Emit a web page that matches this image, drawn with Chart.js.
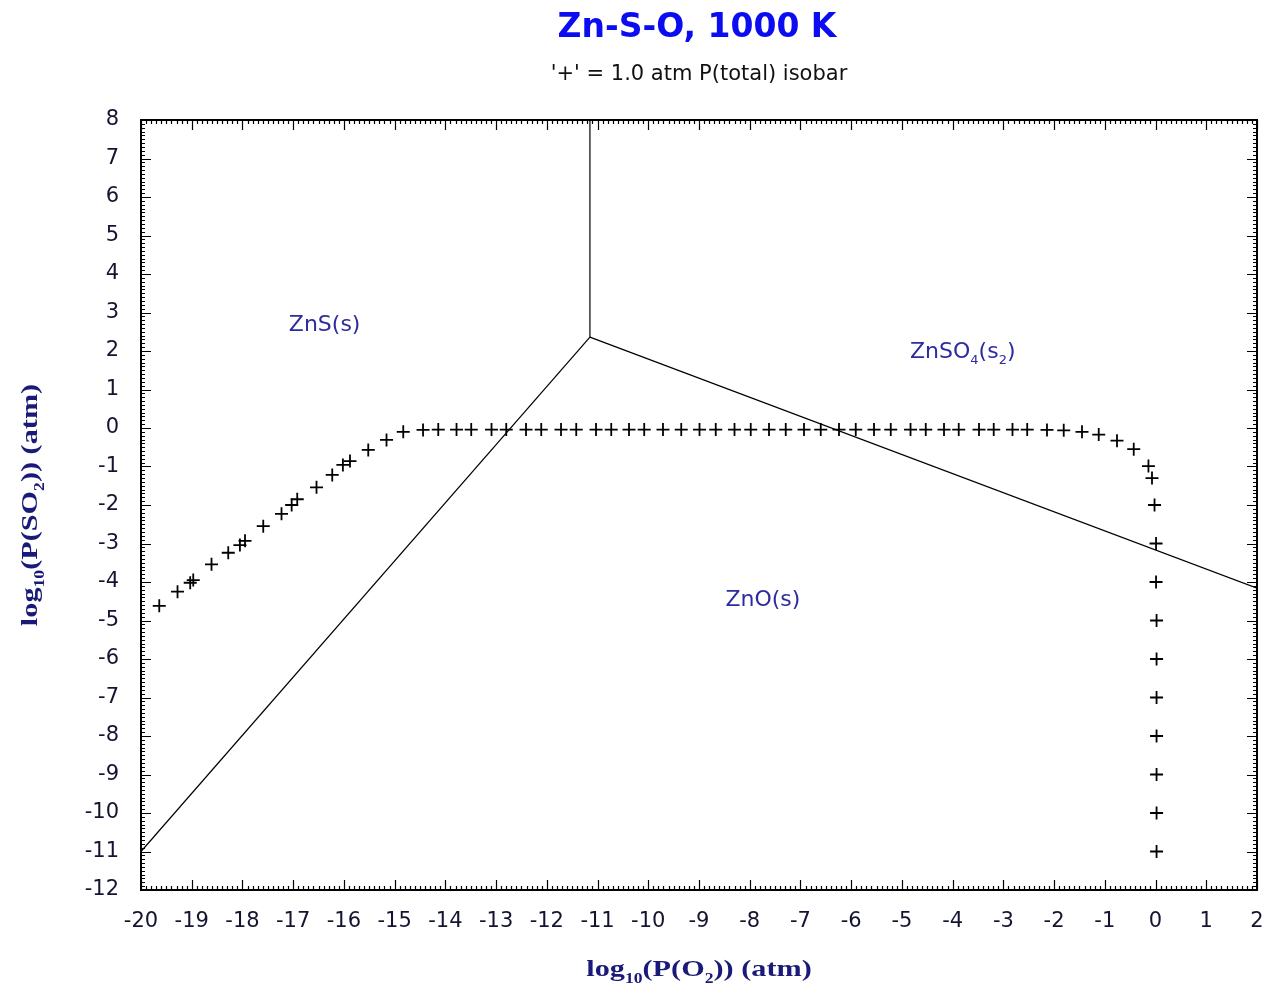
<!DOCTYPE html>
<html>
<head>
<meta charset="utf-8">
<title>Zn-S-O, 1000 K</title>
<script src="https://cdn.jsdelivr.net/npm/chart.js@4.4.0/dist/chart.umd.min.js"></script>
<style>
  html, body { margin: 0; padding: 0; background: #fff; }
  #wrap { width: 1278px; height: 986px; }
</style>
</head>
<body>
<div id="wrap"><canvas id="pd" width="1278" height="986"></canvas></div>
<script>
'use strict';

// axis ranges, log10 units
const xMin = -20, xMax = 2
const yMin = -12, yMax = 8

// phase boundaries (log P(O2), log P(SO2))
const znsSo4X = [-11.15, -11.15]     // ZnS / ZnSO4
const znsSo4Y = [2.36, 8]
const znsZnoX = [-20, -11.15]        // ZnS / ZnO
const znsZnoY = [-11.0, 2.36]
const znoSo4X = [-11.15, 2]          // ZnO / ZnSO4
const znoSo4Y = [2.36, -4.16]

// 1 atm total pressure isobar
const isobarX = [
  -19.64, -19.28, -19.03, -18.97, -18.61, -18.28, -18.05, -17.95, -17.59, -17.23,
  -17.03, -16.92, -16.54, -16.23, -16.02, -15.88, -15.52, -15.16, -14.83, -14.44,
  -14.14, -13.78, -13.49, -13.09, -12.80, -12.41, -12.11, -11.72, -11.42, -11.03,
  -10.73, -10.38, -10.08, -9.71, -9.35, -8.99, -8.67, -8.30, -7.98, -7.62,
  -7.29, -6.93, -6.60, -6.24, -5.91, -5.55, -5.22, -4.83, -4.53, -4.17,
  -3.88, -3.48, -3.19, -2.82, -2.53, -2.14, -1.81, -1.45, -1.12, -0.76,
  -0.43, -0.14, -0.07, -0.02, 0.01, 0.01, 0.02, 0.02, 0.02, 0.02,
  0.02, 0.02, 0.02
]
const isobarY = [
  -4.62, -4.25, -4.02, -3.95, -3.54, -3.24, -3.04, -2.93, -2.55, -2.23,
  -2.00, -1.85, -1.54, -1.22, -0.96, -0.86, -0.57, -0.31, -0.10, -0.05,
  -0.04, -0.04, -0.04, -0.04, -0.04, -0.04, -0.04, -0.04, -0.04, -0.04,
  -0.04, -0.04, -0.04, -0.04, -0.04, -0.04, -0.04, -0.04, -0.04, -0.04,
  -0.04, -0.04, -0.04, -0.04, -0.04, -0.04, -0.04, -0.04, -0.04, -0.04,
  -0.04, -0.04, -0.04, -0.04, -0.04, -0.05, -0.06, -0.10, -0.17, -0.33,
  -0.55, -0.99, -1.30, -2.00, -3.00, -4.00, -5.00, -6.00, -7.00, -8.00,
  -9.00, -10.00, -11.00
]

// phase field labels: [text, subscript?] parts and their data positions
const regionParts = [
  [['ZnS(s)', 0]],
  [['ZnO(s)', 0]],
  [['ZnSO', 0], ['4', 1], ['(s', 0], ['2', 1], [')', 0]]
]
const regionX = [-16.38, -7.74, -3.80]
const regionY = [2.73, -4.42, 2.03]

const titleText = 'Zn-S-O, 1000 K'
const subtitleText = "'+' = 1.0 atm P(total) isobar"
const xTitleParts = [['log', 0], ['10', 1], ['(P(O', 0], ['2', 1], [')) (atm)', 0]]
const yTitleParts = [['log', 0], ['10', 1], ['(P(SO', 0], ['2', 1], [')) (atm)', 0]]

const toPts = (xs, ys) => xs.map((x, i) => ({ x: x, y: ys[i] }))

// draws text with small lowered parts, centred on cx, cy is the baseline
function drawRich(ctx, parts, cx, cy, o) {
  const sx = o.stretch || 1
  const fontFor = sub => (o.weight || 'normal') + ' ' + (sub ? Math.round(o.size * 0.6) : o.size) + 'px ' + o.family
  let total = 0
  parts.forEach(p => { ctx.font = fontFor(p[1]); total += ctx.measureText(p[0]).width * sx })
  let px = cx - total / 2
  ctx.fillStyle = o.color
  ctx.textBaseline = 'alphabetic'
  ctx.textAlign = 'left'
  parts.forEach(p => {
    ctx.font = fontFor(p[1])
    const w = ctx.measureText(p[0]).width * sx
    ctx.save()
    ctx.translate(px, cy + (p[1] ? o.size * 0.28 : 0))
    ctx.scale(sx, 1)
    ctx.fillText(p[0], 0, 0)
    ctx.restore()
    px += w
  })
}

// box frame with inward major/minor ticks on all four sides
const framePlugin = {
  id: 'frame',
  afterDatasetsDraw(chart) {
    const { ctx, chartArea: a, scales: { x, y } } = chart
    ctx.save()
    ctx.strokeStyle = '#000'
    ctx.lineWidth = 1.2
    ctx.beginPath()
    for (let i = xMin * 10; i <= xMax * 10; i++) {
      const px = Math.round(x.getPixelForValue(i / 10)) + 0.5
      const len = i % 10 === 0 ? 10 : 4
      ctx.moveTo(px, a.bottom); ctx.lineTo(px, a.bottom - len)
      ctx.moveTo(px, a.top); ctx.lineTo(px, a.top + len)
    }
    for (let i = yMin * 10; i <= yMax * 10; i++) {
      const py = Math.round(y.getPixelForValue(i / 10)) + 0.5
      const len = i % 10 === 0 ? 10 : 4
      ctx.moveTo(a.left, py); ctx.lineTo(a.left + len, py)
      ctx.moveTo(a.right, py); ctx.lineTo(a.right - len, py)
    }
    ctx.stroke()
    ctx.lineWidth = 2
    ctx.strokeRect(a.left, a.top, a.right - a.left, a.bottom - a.top)
    ctx.restore()
  },
  afterDraw(chart) {
    const { ctx, chartArea: a, scales: { x, y } } = chart
    const cx = (a.left + a.right) / 2
    ctx.save()
    drawRich(ctx, [[titleText, 0]], cx - 2, 37, { family: '"DejaVu Sans"', weight: 'bold', size: 33, color: '#0c0cf0' })
    drawRich(ctx, [[subtitleText, 0]], cx, 80, { family: '"DejaVu Sans"', size: 21, color: '#111' })

    regionParts.forEach((parts, i) => {
      drawRich(ctx, parts, x.getPixelForValue(regionX[i]), y.getPixelForValue(regionY[i]) + 8,
        { family: '"DejaVu Sans"', size: 22, color: '#2c2ca0' })
    })

    const axisFont = { family: '"Liberation Serif"', weight: 'bold', size: 24, stretch: 1.26, color: '#1a1a78' }
    drawRich(ctx, xTitleParts, cx, 976, axisFont)
    ctx.translate(37, (a.top + a.bottom) / 2)
    ctx.rotate(-Math.PI / 2)
    drawRich(ctx, yTitleParts, 0, 0, axisFont)
    ctx.restore()
  }
}

const lineSet = (xs, ys) => ({
  data: toPts(xs, ys),
  showLine: true,
  borderColor: '#000',
  borderWidth: 1.2,
  pointRadius: 0,
  pointHoverRadius: 0,
  fill: false,
  tension: 0
})

const tickFont = { family: '"DejaVu Sans"', size: 21 }

new Chart(document.getElementById('pd'), {
  type: 'scatter',
  data: {
    datasets: [
      lineSet(znsSo4X, znsSo4Y),
      lineSet(znsZnoX, znsZnoY),
      lineSet(znoSo4X, znoSo4Y),
      {
        data: toPts(isobarX, isobarY),
        pointStyle: 'cross',
        pointRadius: 6.5,
        pointBorderWidth: 1.8,
        borderColor: '#000',
        backgroundColor: '#000',
        showLine: false
      }
    ]
  },
  options: {
    responsive: false,
    animation: false,
    devicePixelRatio: 1,
    layout: { padding: { top: 120, right: 21, left: 0, bottom: 0 } },
    plugins: { legend: { display: false }, tooltip: { enabled: false } },
    scales: {
      x: {
        type: 'linear',
        min: xMin,
        max: xMax,
        grid: { display: false },
        border: { display: false },
        ticks: { stepSize: 1, autoSkip: false, maxRotation: 0, font: tickFont, color: '#141430', padding: 11 },
        afterFit: s => { s.height = 96 }
      },
      y: {
        type: 'linear',
        min: yMin,
        max: yMax,
        grid: { display: false },
        border: { display: false },
        ticks: { stepSize: 1, autoSkip: false, font: tickFont, color: '#141430', padding: 14 },
        afterFit: s => { s.width = 141 }
      }
    }
  },
  plugins: [framePlugin]
})
</script>
</body>
</html>
